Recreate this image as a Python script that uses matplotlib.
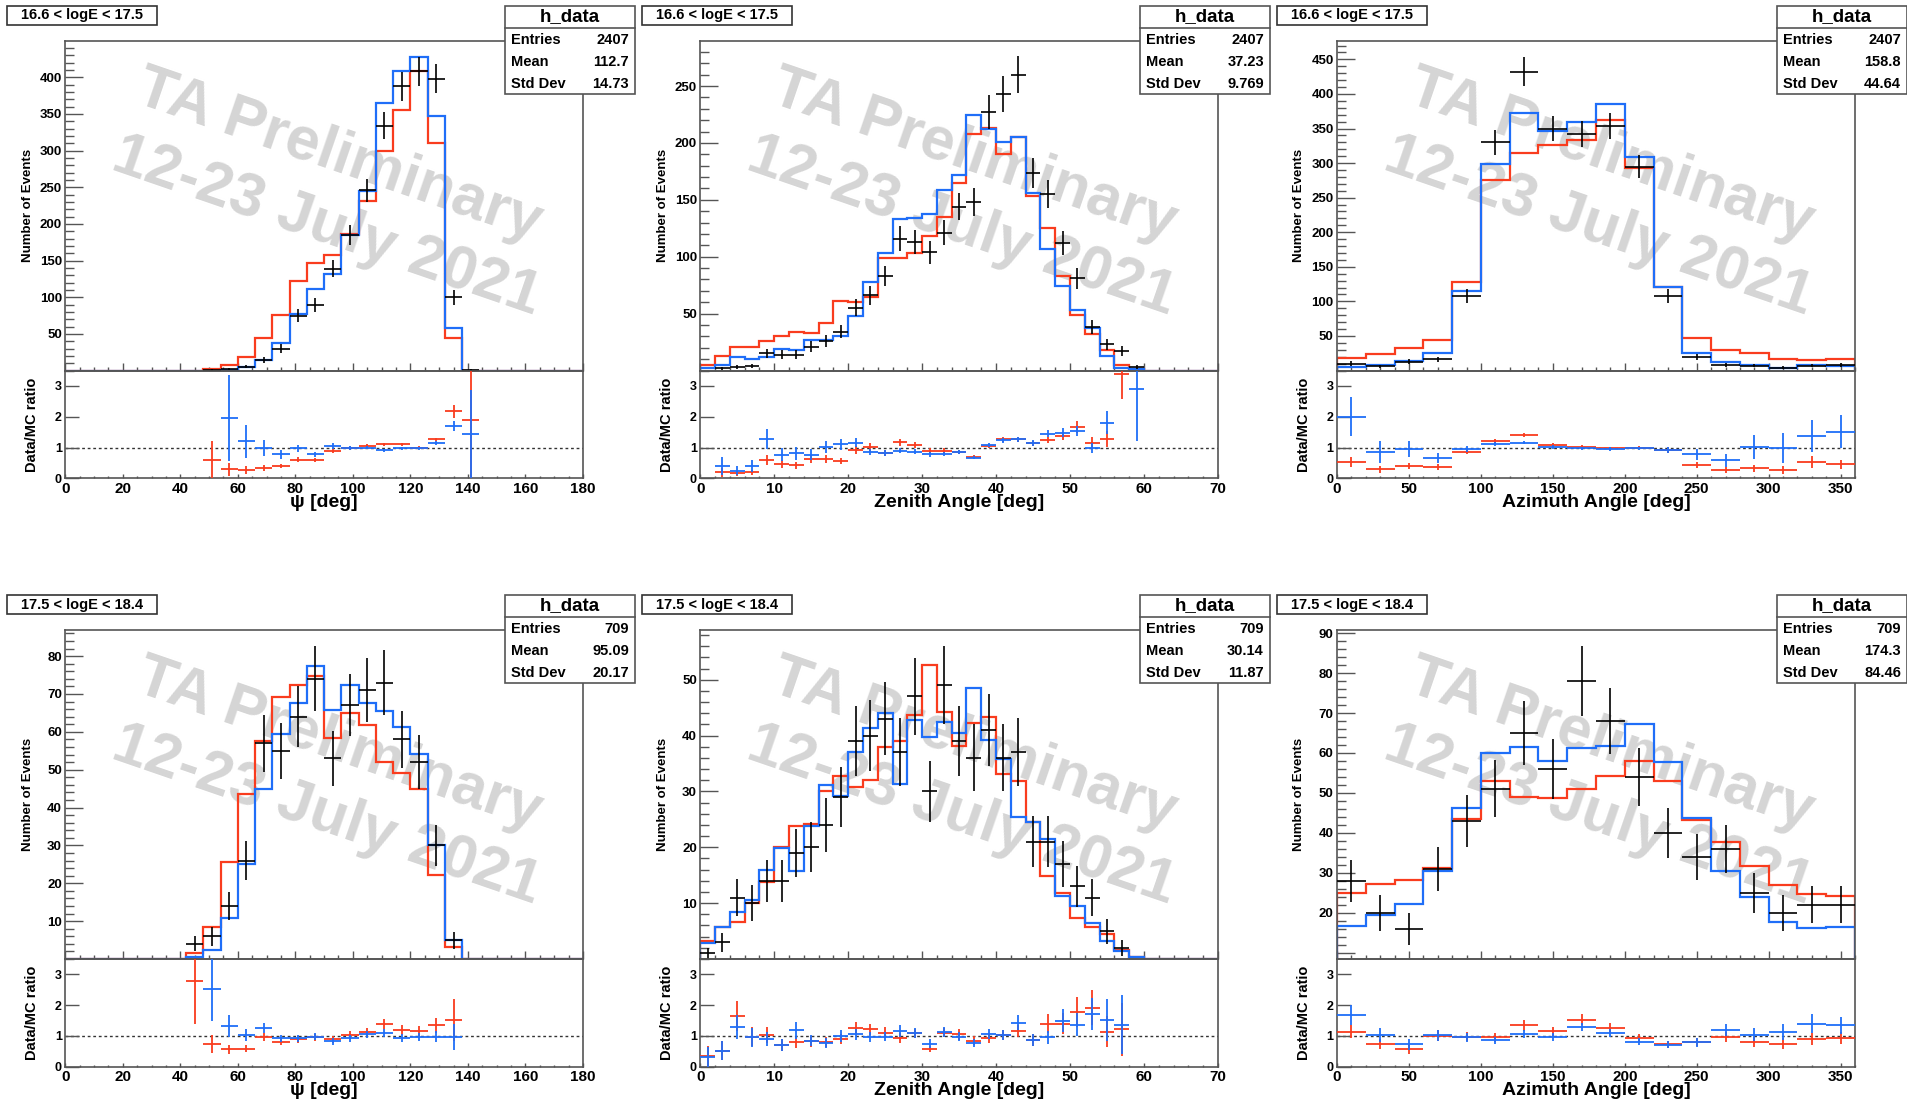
import numpy as np
import matplotlib
matplotlib.use('Agg')
import matplotlib.pyplot as plt
from matplotlib.patches import Rectangle
from matplotlib.lines import Line2D
from matplotlib.ticker import MultipleLocator, FixedLocator, NullLocator

plt.rcParams['font.family'] = ['Liberation Sans', 'DejaVu Sans']
plt.rcParams['font.weight'] = 'bold'

nan = np.nan

# ---------------- data ----------------
# Panel 1: psi, 16.6 < logE < 17.5  (6 deg bins, 0-180)
psi_lo_red = [0]*8 + [2, 7, 19, 44, 76, 122, 146, 157, 186, 231, 300, 355, 408, 311, 45] + [0]*7
psi_lo_blue = [0]*8 + [0, 1, 5, 14, 37, 77, 111, 131, 185, 245, 365, 408, 428, 347, 58] + [0]*7
psi_lo_data = [0]*8 + [1, 2, 5, 14, 30, 75, 89, 139, 185, 246, 334, 388, 408, 398, 100, 1] + [0]*6
psi_lo_rr = [nan]*8 + [0.61, 0.29, 0.27, 0.33, 0.40, 0.61, 0.61, 0.89, 0.99, 1.05, 1.10, 1.10, 1.00, 1.26, 2.17, 1.88] + [nan]*6
psi_lo_rb = [nan]*8 + [nan, 1.97, 1.20, 0.99, 0.78, 0.97, 0.78, 1.05, 0.99, 1.00, 0.91, 0.97, 0.97, 1.15, 1.70, 1.43] + [nan]*6

# Panel 2: zenith, 16.6 < logE < 17.5 (2 deg bins, 0-70)
zen_lo_red = [4.4, 13, 20.5, 21, 25.5, 30.5, 34, 33, 42, 61, 60, 65, 99, 99, 103, 118, 135, 165, 208, 213,
              190, 205, 153, 125, 83, 49, 32, 18, 5, 1.2, 0, 0, 0, 0, 0]
zen_lo_blue = [2.3, 4.4, 12.3, 10, 11.7, 19, 18.4, 26.6, 27, 30, 48, 78, 103, 133, 134, 137.6, 159, 171.6, 225, 212,
               200.6, 205.6, 156, 106.6, 74.7, 53, 37.5, 12.6, 2.6, 1.0, 0, 0, 0, 0, 0]
zen_lo_data = [0, 2, 3, 4, 15, 14, 14, 21, 26, 34, 55, 66, 83, 116, 113, 104, 121, 144, 148, 227,
               243, 260, 174, 155, 112, 81, 38, 23, 17, 3, 0, 0, 0, 0, 0]
zen_lo_rr = [nan, 0.19, 0.16, 0.19, 0.59, 0.47, 0.43, 0.62, 0.62, 0.57, 0.91, 1.02, 0.83, 1.17, 1.09, 0.89, 0.89,
             0.86, 0.70, 1.04, 1.26, 1.26, 1.13, 1.24, 1.37, 1.67, 1.16, 1.27, 3.39] + [nan]*6
zen_lo_rb = [nan, 0.40, 0.25, 0.40, 1.28, 0.77, 0.81, 0.77, 1.02, 1.10, 1.16, 0.86, 0.83, 0.89, 0.86, 0.78, 0.78,
             0.86, 0.67, 1.08, 1.24, 1.27, 1.15, 1.45, 1.48, 1.54, 0.99, 1.80, nan, 2.90] + [nan]*5

# Panel 3: azimuth, 16.6 < logE < 17.5 (20 deg bins, 0-360)
azi_lo_red = [18.3, 23.6, 32.3, 44.3, 127.7, 275.7, 315, 326.7, 334, 362, 293, 120.5, 46.7, 29.4, 25, 16.9, 14.5, 17.3]
azi_lo_blue = [5.3, 7.7, 14, 25, 115.7, 298.8, 372.5, 346.5, 359.5, 385, 309, 121.4, 24.6, 13, 7.7, 4.3, 7.7, 6.3]
azi_lo_data = [10, 6, 13, 16, 108, 330, 432, 350, 342, 354, 295, 108, 19, 8, 7, 4, 7, 8]
azi_lo_rr = [0.52, 0.29, 0.40, 0.38, 0.86, 1.20, 1.40, 1.08, 1.02, 0.98, 1.00, 0.92, 0.43, 0.27, 0.32, 0.27, 0.52, 0.45]
azi_lo_rb = [2.00, 0.86, 0.95, 0.67, 0.95, 1.11, 1.16, 1.02, 0.97, 0.95, 0.97, 0.92, 0.78, 0.59, 1.02, 0.98, 1.38, 1.51]

# Panel 4: psi, 17.5 < logE < 18.4
psi_hi_red = [0]*7 + [1.6, 8.4, 25.6, 43.7, 57.5, 69.3, 72.3, 74.8, 58.4, 65, 61.9, 52.1, 49, 44.9, 22.2, 3.3] + [0]*7
psi_hi_blue = [0]*7 + [0.6, 2.4, 10.7, 25.2, 44.9, 59.5, 67.6, 77.3, 65.9, 72.5, 67.7, 65.6, 61.4, 54.2, 30, 5.0] + [0]*7
psi_hi_data = [0]*7 + [4, 6, 14, 26, 57, 55, 64, 74, 53, 67, 71, 73, 58, 52, 30, 5] + [0]*7
psi_hi_rr = [nan]*7 + [2.8, 0.73, 0.56, 0.59, 0.98, 0.81, 0.89, 0.96, 0.89, 1.02, 1.13, 1.40, 1.20, 1.15, 1.35, 1.53] + [nan]*7
psi_hi_rb = [nan]*7 + [nan, 2.53, 1.32, 1.03, 1.25, 0.92, 0.92, 0.98, 0.83, 0.93, 1.05, 1.11, 0.93, 0.96, 0.98, 0.96] + [nan]*7

# Panel 5: zenith, 17.5 < logE < 18.4
zen_hi_red = [3.2, 5.8, 6.7, 10, 13.75, 20, 23.9, 24.2, 30, 32.7, 30.8, 32, 38, 39.1, 43.7, 52.6, 44.2, 38.2, 42.2, 43.3,
              33.2, 31.8, 24.6, 14.8, 11.8, 7.3, 5.7, 4.5, 1.6, 0.36, 0, 0, 0, 0, 0]
zen_hi_blue = [2.9, 5.8, 8.4, 10.5, 16, 19.9, 15.8, 23.75, 31.2, 29.2, 37.1, 41.3, 44, 31.4, 42.7, 39.8, 42.4, 40.4,
               48.6, 39.2, 35.8, 25.4, 24.6, 21.4, 11.25, 9.5, 6.4, 3.2, 1.4, 0.4, 0, 0, 0, 0, 0]
zen_hi_data = [1, 3, 11, 10, 14, 14, 19, 20, 24, 29, 39, 40, 43, 37, 47, 30, 49, 39, 36, 41, 36, 37, 21, 21, 17, 13,
               11, 5, 2, 0, 0, 0, 0, 0, 0]
zen_hi_rr = [0.34, 0.52, 1.65, 0.98, 1.03, 0.71, 0.79, 0.82, 0.79, 0.89, 1.25, 1.21, 1.11, 0.93, 1.08, 0.57, 1.11,
             1.05, 0.85, 0.93, 1.03, 1.16, 0.87, 1.40, 1.40, 1.78, 1.92, 1.13, 1.21] + [nan]*6
zen_hi_rb = [0.32, 0.52, 1.30, 0.96, 0.90, 0.71, 1.18, 0.85, 0.77, 1.00, 1.05, 0.96, 0.98, 1.16, 1.09, 0.75, 1.14,
             0.98, 0.77, 1.06, 1.03, 1.43, 0.87, 0.96, 1.50, 1.36, 1.72, 1.52, 1.36] + [nan]*6

# Panel 6: azimuth, 17.5 < logE < 18.4
azi_hi_red = [25, 27.2, 28.1, 31.2, 43.4, 53, 49, 48.8, 51.1, 54.2, 58.1, 53, 43.2, 37.6, 31.8, 26.9, 24.6, 24.2]
azi_hi_blue = [16.6, 19.4, 22.2, 30.4, 46.1, 60, 61.6, 58, 61.2, 61.8, 67.3, 57.8, 43.8, 30.4, 23.9, 17.7, 16.2, 16.5]
azi_hi_data = [28, 20, 16, 31, 43, 51, 65, 56, 78, 68, 54, 40, 34, 36, 25, 20, 22, 22]
azi_hi_rr = [1.13, 0.73, 0.57, 1.00, 0.97, 0.95, 1.34, 1.15, 1.53, 1.26, 0.93, 0.73, 0.81, 0.97, 0.81, 0.75, 0.89, 0.92]
azi_hi_rb = [1.69, 1.02, 0.73, 1.02, 0.95, 0.86, 1.05, 0.97, 1.29, 1.10, 0.81, 0.72, 0.79, 1.18, 1.04, 1.13, 1.40, 1.34]

energy_labels = ["16.6 < logE < 17.5", "17.5 < logE < 18.4"]
xlabels = ["\u03c8 [deg]", "Zenith Angle [deg]", "Azimuth Angle [deg]"]
entries = ["2407", "709"]
means = [["112.7", "37.23", "158.8"], ["95.09", "30.14", "174.3"]]
stddevs = [["14.73", "9.769", "44.64"], ["20.17", "11.87", "84.46"]]

# ---------------- styling / layout ----------------
W, H = 1907, 1101
RED = '#f93c1e'
BLUE = '#1f6ef8'
FRAME = '#555555'
WM = '#d5d5d5'

col_lr = [(65.3, 582.9), (700.3, 1217.9), (1337.0, 1855.0)]
col_start = [0, 635, 1270]
row_y = [(41.0, 370.5, 478.3), (630.0, 959.0, 1066.7)]

fig = plt.figure(figsize=(W / 100, H / 100), dpi=100)
fig.patch.set_facecolor('white')


def fx(x):
    return x / W


def fy(y):
    return 1 - y / H


panels = [
    [dict(edges=np.arange(0, 181, 6), red=psi_lo_red, blue=psi_lo_blue, data=psi_lo_data, rr=psi_lo_rr, rb=psi_lo_rb,
          xlim=(0, 180), xmaj=20, xmin=5, ylim=(0, 449.5), yt=list(range(50, 401, 50)), ymin=10),
     dict(edges=np.arange(0, 71, 2), red=zen_lo_red, blue=zen_lo_blue, data=zen_lo_data, rr=zen_lo_rr, rb=zen_lo_rb,
          xlim=(0, 70), xmaj=10, xmin=2, ylim=(0, 289.6), yt=list(range(50, 251, 50)), ymin=10),
     dict(edges=np.arange(0, 361, 20), red=azi_lo_red, blue=azi_lo_blue, data=azi_lo_data, rr=azi_lo_rr, rb=azi_lo_rb,
          xlim=(0, 360), xmaj=50, xmin=10, ylim=(0, 476.6), yt=list(range(50, 451, 50)), ymin=10)],
    [dict(edges=np.arange(0, 181, 6), red=psi_hi_red, blue=psi_hi_blue, data=psi_hi_data, rr=psi_hi_rr, rb=psi_hi_rb,
          xlim=(0, 180), xmaj=20, xmin=5, ylim=(0, 86.9), yt=list(range(10, 81, 10)), ymin=2),
     dict(edges=np.arange(0, 71, 2), red=zen_hi_red, blue=zen_hi_blue, data=zen_hi_data, rr=zen_hi_rr, rb=zen_hi_rb,
          xlim=(0, 70), xmaj=10, xmin=2, ylim=(0, 58.9), yt=list(range(10, 51, 10)), ymin=2),
     dict(edges=np.arange(0, 361, 20), red=azi_hi_red, blue=azi_hi_blue, data=azi_hi_data, rr=azi_hi_rr, rb=azi_hi_rb,
          xlim=(0, 360), xmaj=50, xmin=10, ylim=(8.4, 90.8), yt=list(range(10, 91, 10)), ymin=2, hide_first=True)],
]

for r in range(2):
    top, mid, bot = row_y[r]
    for c in range(3):
        p = panels[r][c]
        L, R = col_lr[c]
        edges = p['edges']
        centers = 0.5 * (edges[:-1] + edges[1:])
        hw = 0.5 * (edges[1] - edges[0])
        red = np.array(p['red'], float)
        blue = np.array(p['blue'], float)
        data = np.array(p['data'], float)
        rr = np.array(p['rr'], float)
        rb = np.array(p['rb'], float)

        ax = fig.add_axes([fx(L), fy(mid), (R - L) / W, (mid - top) / H])
        axr = fig.add_axes([fx(L), fy(bot), (R - L) / W, (bot - mid) / H])
        for a in (ax, axr):
            a.set_facecolor('none')
            for s in a.spines.values():
                s.set_color(FRAME)
                s.set_linewidth(1.2)

        # watermark
        ax.text(0.529, 0.651, "TA Preliminary", transform=ax.transAxes, rotation=-19, rotation_mode='anchor',
                ha='center', va='center', fontsize=44, color=WM, zorder=0.5, clip_on=False)
        ax.text(0.504, 0.4355, "12-23 July 2021", transform=ax.transAxes, rotation=-19, rotation_mode='anchor',
                ha='center', va='center', fontsize=44, color=WM, zorder=0.5, clip_on=False)

        ax.stairs(red, edges, color=RED, lw=1.6, zorder=2)
        ax.stairs(blue, edges, color=BLUE, lw=1.6, zorder=2.5)
        m = data > 0
        ax.errorbar(centers[m], data[m], xerr=hw, yerr=np.sqrt(data[m]), fmt='none', ecolor='black',
                    elinewidth=1.2, capsize=0, zorder=4)
        ax.set_xlim(*p['xlim'])
        ax.set_ylim(*p['ylim'])
        ax.xaxis.set_major_locator(MultipleLocator(p['xmaj']))
        ax.xaxis.set_minor_locator(MultipleLocator(p['xmin']))
        ax.tick_params(axis='x', which='both', direction='in', labelbottom=False, top=False, color=FRAME, width=1)
        ax.tick_params(axis='x', which='major', length=5.5)
        ax.tick_params(axis='x', which='minor', length=3)
        ax.yaxis.set_major_locator(FixedLocator(p['yt']))
        labs = [str(v) for v in p['yt']]
        if p.get('hide_first'):
            labs[0] = ''
        ax.set_yticklabels(labs)
        ax.yaxis.set_minor_locator(MultipleLocator(p['ymin']))
        ax.tick_params(axis='y', which='both', direction='in', right=False, color=FRAME, width=1,
                       labelsize=9.5, pad=2.5)
        ax.tick_params(axis='y', which='major', length=13)
        ax.tick_params(axis='y', which='minor', length=6.5)

        # ratio panel
        axr.axhline(1.0, color='#333333', lw=1.0, ls=(0, (2, 2)), zorder=1)
        for rat, col, z in ((rr, RED, 3), (rb, BLUE, 3.5)):
            mm = np.isfinite(rat) & (data > 0)
            axr.errorbar(centers[mm], rat[mm], xerr=hw, yerr=rat[mm] / np.sqrt(data[mm]), fmt='none',
                         ecolor=col, elinewidth=1.3, capsize=0, zorder=z)
        axr.set_xlim(*p['xlim'])
        axr.set_ylim(0, 3.5)
        axr.xaxis.set_major_locator(MultipleLocator(p['xmaj']))
        axr.xaxis.set_minor_locator(MultipleLocator(p['xmin']))
        axr.tick_params(axis='x', which='both', direction='in', top=False, color=FRAME, width=1,
                        labelsize=11, pad=2.5)
        axr.tick_params(axis='x', which='major', length=3)
        axr.tick_params(axis='x', which='minor', length=1.5)
        axr.yaxis.set_major_locator(FixedLocator([0, 1, 2, 3]))
        axr.yaxis.set_minor_locator(NullLocator())
        axr.tick_params(axis='y', which='major', direction='in', right=False, color=FRAME, width=1,
                        length=10, labelsize=9, pad=2.5)

        # axis titles
        fig.text(fx(L - 37.5), fy((top + mid) / 2), "Number of Events", rotation=90, ha='center', va='center',
                 fontsize=9.5)
        fig.text(fx(L - 33), fy((mid + bot) / 2), "Data/MC ratio", rotation=90, ha='center', va='center',
                 fontsize=10.5)
        fig.text(fx((L + R) / 2), fy(bot + 24), xlabels[c], ha='center', va='center', fontsize=14)

        # energy label box
        bx0 = col_start[c] + 7
        by0 = top - 35
        fig.add_artist(Rectangle((fx(bx0), fy(by0 + 19)), 150 / W, 19 / H, transform=fig.transFigure,
                                 fc='white', ec='#333333', lw=1.2, zorder=5))
        fig.text(fx(bx0 + 75), fy(by0 + 9.5), energy_labels[r], ha='center', va='center', fontsize=10.5, zorder=6)

        # stats box
        sx0, sx1 = R - 78, R + 52
        sy0 = top - 35
        fig.add_artist(Rectangle((fx(sx0), fy(sy0 + 88)), (sx1 - sx0) / W, 88 / H, transform=fig.transFigure,
                                 fc='white', ec='#555555', lw=1.2, zorder=5))
        fig.add_artist(Line2D([fx(sx0), fx(sx1)], [fy(sy0 + 22), fy(sy0 + 22)], transform=fig.transFigure,
                              color='#555555', lw=1.2, zorder=6))
        fig.text(fx((sx0 + sx1) / 2), fy(sy0 + 11), "h_data", ha='center', va='center', fontsize=13.5,
                 fontweight='bold', zorder=7)
        for k, (nm, val) in enumerate((("Entries", entries[r]), ("Mean", means[r][c]), ("Std Dev", stddevs[r][c]))):
            yy = sy0 + 34 + 22 * k
            fig.text(fx(sx0 + 6), fy(yy), nm, ha='left', va='center', fontsize=10.5, zorder=7)
            fig.text(fx(sx1 - 6), fy(yy), val, ha='right', va='center', fontsize=10.5, zorder=7)

fig.savefig('out.png', dpi=100, facecolor='white')
